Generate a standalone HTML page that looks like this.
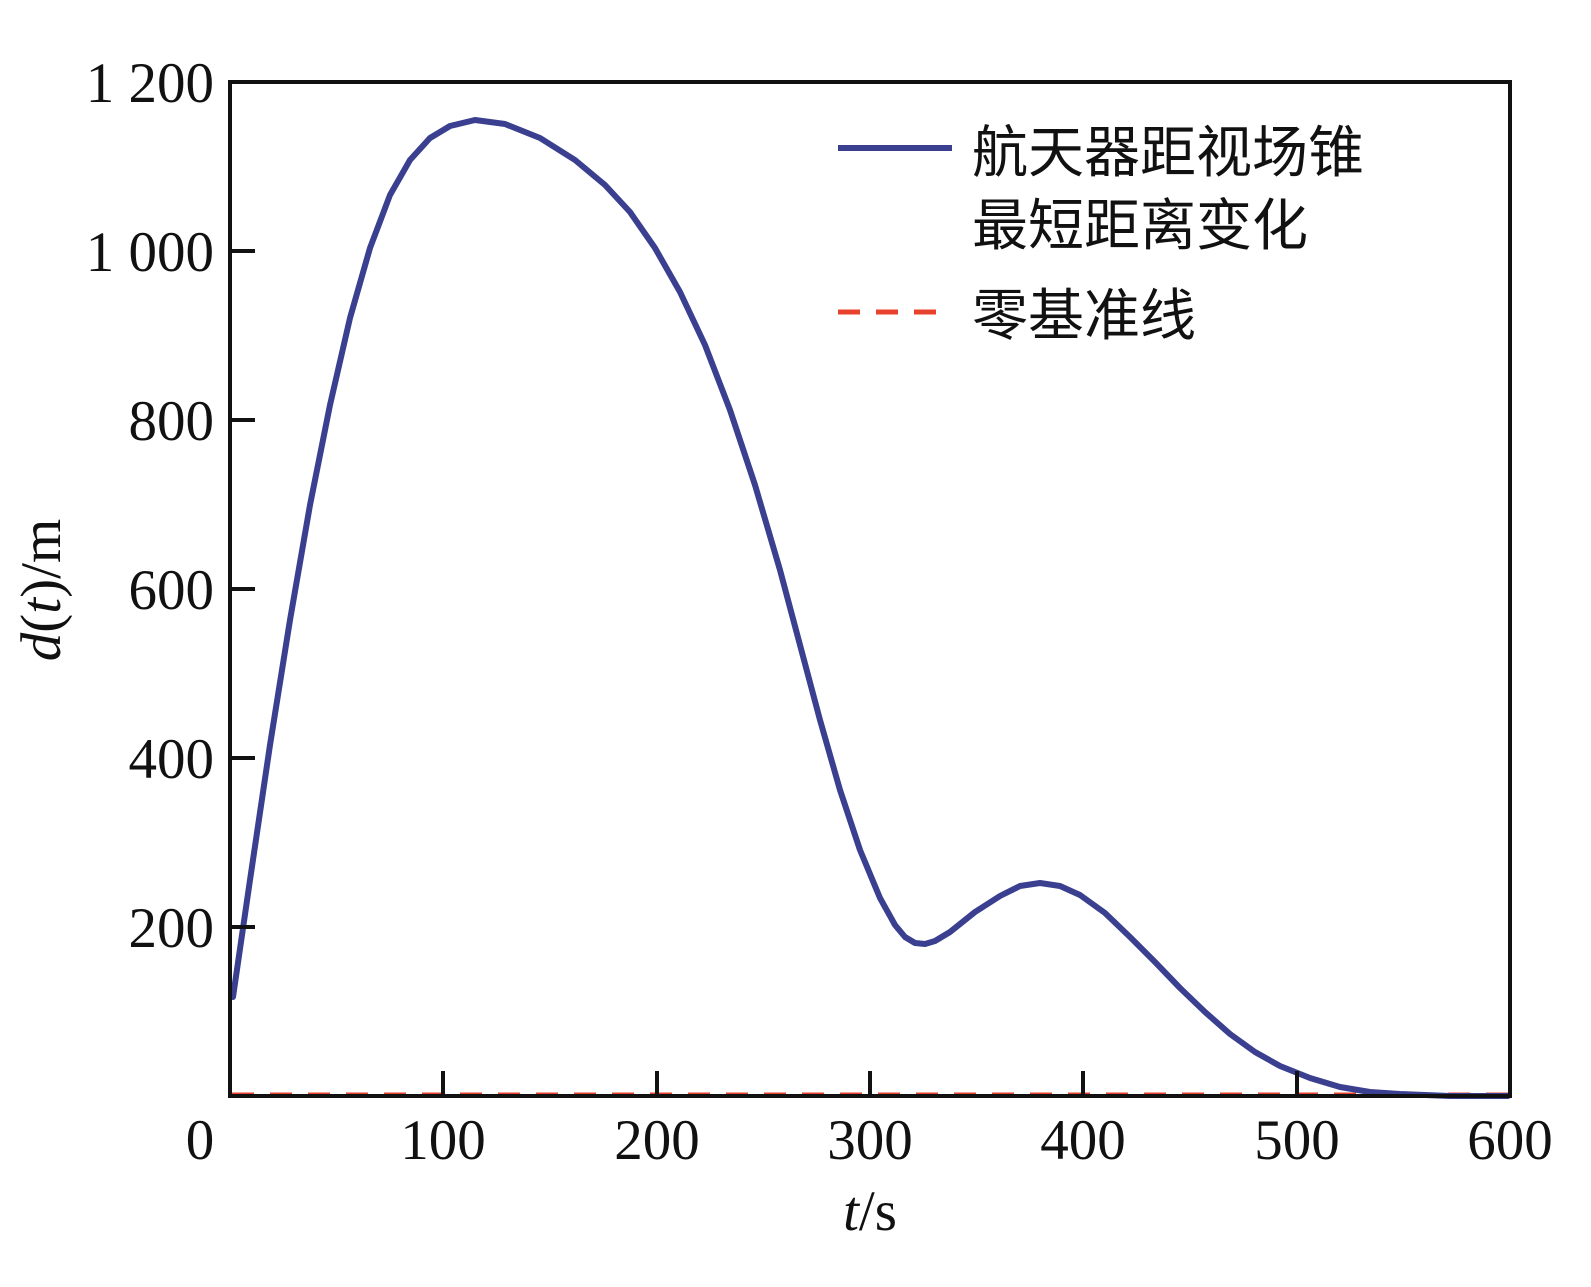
<!DOCTYPE html>
<html><head><meta charset="utf-8"><style>
html,body{margin:0;padding:0;background:#fff;}
svg{display:block;}
text{font-family:"Liberation Serif","Noto Serif CJK SC",serif;fill:#111;}
.cj{font-family:"Liberation Serif","Noto Sans CJK SC",sans-serif;}
</style></head><body>
<svg width="1591" height="1287" viewBox="0 0 1591 1287" xmlns="http://www.w3.org/2000/svg">
<rect width="1591" height="1287" fill="#fff"/>
<line x1="232" y1="1095" x2="1508" y2="1095" stroke="#e8412c" stroke-width="5" stroke-dasharray="22,16"/>
<polyline fill="none" stroke="#3a3f8f" stroke-width="6" stroke-linejoin="round" stroke-linecap="round"
points="233,997 250,880 270,745 290,620 310,505 330,405 350,318 370,248 390,195 410,160 430,138 450,126 475,120 505,124 540,138 575,160 605,185 630,212 655,248 680,292 705,345 730,410 755,485 780,570 800,645 820,720 840,790 860,850 880,898 895,925 905,937 915,943 925,944 935,941 950,932 975,912 1000,896 1020,886 1040,883 1060,886 1080,895 1105,913 1130,937 1155,962 1180,988 1205,1012 1230,1034 1255,1052 1280,1066 1310,1078 1340,1087 1370,1092 1400,1094 1450,1096 1508,1096"/>
<rect x="230" y="82" width="1280" height="1014" fill="none" stroke="#111" stroke-width="4"/>
<g stroke="#111" stroke-width="4">
<line x1="230" y1="251" x2="255" y2="251"/>
<line x1="230" y1="420" x2="255" y2="420"/>
<line x1="230" y1="589" x2="255" y2="589"/>
<line x1="230" y1="758" x2="255" y2="758"/>
<line x1="230" y1="927" x2="255" y2="927"/>
<line x1="443" y1="1096" x2="443" y2="1071"/>
<line x1="657" y1="1096" x2="657" y2="1071"/>
<line x1="870" y1="1096" x2="870" y2="1071"/>
<line x1="1083" y1="1096" x2="1083" y2="1071"/>
<line x1="1297" y1="1096" x2="1297" y2="1071"/>
</g>
<g font-size="57" text-anchor="end">
<text x="214" y="102">1 200</text>
<text x="214" y="271">1 000</text>
<text x="214" y="440">800</text>
<text x="214" y="609">600</text>
<text x="214" y="778">400</text>
<text x="214" y="947">200</text>
</g>
<g font-size="57" text-anchor="middle">
<text x="200" y="1159">0</text>
<text x="443" y="1159">100</text>
<text x="657" y="1159">200</text>
<text x="870" y="1159">300</text>
<text x="1083" y="1159">400</text>
<text x="1297" y="1159">500</text>
<text x="1510" y="1159">600</text>
<text x="870" y="1230"><tspan font-style="italic">t</tspan>/s</text>
</g>
<text font-size="57" text-anchor="middle" transform="translate(60,590) rotate(-90)"><tspan font-style="italic">d</tspan>(<tspan font-style="italic">t</tspan>)/m</text>
<line x1="838" y1="148" x2="952" y2="148" stroke="#3a3f8f" stroke-width="6"/>
<text class="cj" x="972" y="172" font-size="56">航天器距视场锥</text>
<text class="cj" x="972" y="245" font-size="56">最短距离变化</text>
<line x1="838" y1="312" x2="952" y2="312" stroke="#e8412c" stroke-width="5" stroke-dasharray="22,16"/>
<text class="cj" x="972" y="335" font-size="56">零基准线</text>
</svg>
</body></html>
